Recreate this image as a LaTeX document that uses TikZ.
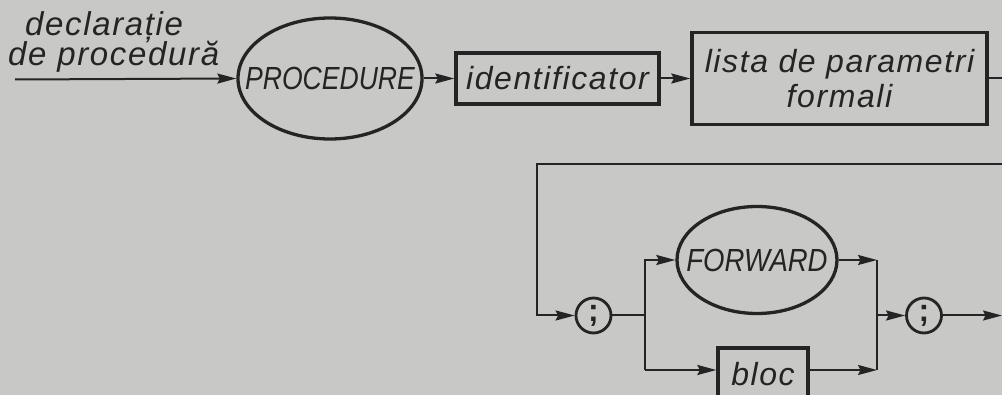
\documentclass[tikz,border=0pt]{standalone}
\usepackage{fontspec}
\setmainfont{Liberation Sans}
\newfontfamily\spaced{Liberation Sans}[LetterSpace=5]
\usetikzlibrary{arrows.meta,shapes.geometric}
\definecolor{paper}{RGB}{200,200,198}
\definecolor{ink}{RGB}{36,36,36}
\begin{document}
\begin{tikzpicture}[x=1pt,y=-1pt,
  txt/.style={font=\fontsize{32}{35}\selectfont\spaced\itshape, text=ink},
  caps/.style={font=\fontsize{32}{34}\selectfont\itshape, text=ink},
  boxnode/.style={draw=ink, line width=3.3pt, rectangle, inner sep=0pt, txt},
  ovalnode/.style={draw=ink, line width=3.3pt, ellipse, inner sep=0pt, caps},
  semic/.style={draw=ink, line width=2.8pt, circle, inner sep=0pt, minimum size=35pt,
    font=\fontsize{32}{32}\selectfont\bfseries, text=ink},
  conn/.style={draw=ink, line width=2pt},
  arr/.style={conn, -{Stealth[length=19pt,width=10pt,inset=2.5pt]}},
  lab/.style={font=\fontsize{33}{36}\selectfont\spaced\itshape, text=ink, inner sep=0pt, anchor=base west}
]
\useasboundingbox (0,0) rectangle (1002,395);
\fill[paper] (0,0) rectangle (1002,395);
\clip (0,0) rectangle (1002,395);

% labels
\node[lab] (l1) at (25,36) {declarație};
\node[lab] (l2) at (8,66) {de procedură};

% top row
\node[ovalnode, minimum width=184pt, minimum height=121pt] (proc) at (330,78.5)
  {\makebox[0pt]{\scalebox{0.83}[1]{PROCEDURE}}};
\node[boxnode, minimum width=203pt, minimum height=51pt] (ident) at (557.5,78.5) {identificator};
\node[boxnode, minimum width=295pt, minimum height=92pt, align=center] (lista) at (839.5,78.5)
  {\raisebox{-4pt}{lista de parametri}\\\raisebox{-4pt}{formali}};

% bottom part
\node[semic] (semi1) at (593.5,315.5) {\raisebox{1pt}{;}};
\node[ovalnode, minimum width=160pt, minimum height=107pt] (fwd) at (757,260)
  {\makebox[0pt]{\scalebox{0.86}[1]{FORWARD}}};
\node[boxnode, minimum width=90pt, minimum height=52pt] (bloc) at (763,374) {bloc};
\node[semic] (semi2) at (924,315.5) {\raisebox{1pt}{;}};

% coordinates
\coordinate (in) at (15,79.5);
\coordinate (r1) at (1012,78.5);
\coordinate (r2) at (1012,164);
\coordinate (c1) at (537,164);
\coordinate (c2) at (537,315.5);
\coordinate (j) at (645,315.5);
\coordinate (jb) at (645,370);
\coordinate (k) at (877,315.5);
\coordinate (out) at (1002,315.5);

% connectors
\draw[arr] (in) -- (proc.west);
\draw[arr] (proc.east) -- (ident.west);
\draw[arr] (ident.east) -- (lista.west);
\draw[arr] (lista.east) -- (r1) -- (r2) -- (c1) -- (c2) -- (semi1.west);
\draw[conn] (semi1.east) -- (j);
\draw[arr] (j) |- (fwd.west);
\draw[conn] (j) -- (jb);
\draw[arr] (jb) -- (jb -| bloc.west);
\draw[arr] (fwd.east) -- (fwd.east -| k);
\draw[arr] (jb -| bloc.east) -- (jb -| k);
\draw[conn] (fwd.east -| k) -- (jb -| k);
\draw[arr] (k) -- (semi2.west);
\draw[arr] (semi2.east) -- (out);
\end{tikzpicture}
\end{document}
